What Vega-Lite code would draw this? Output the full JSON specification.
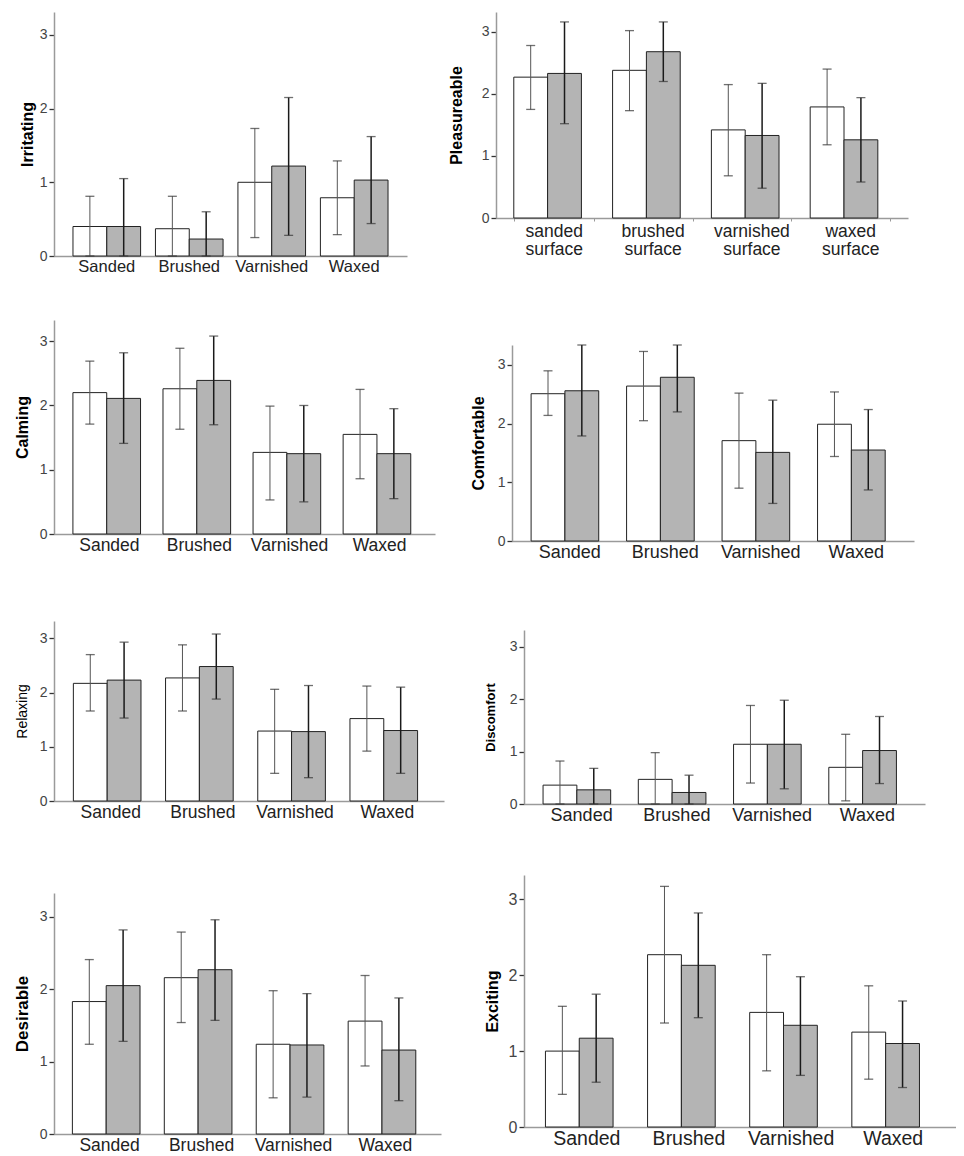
{
  "$schema": "https://vega.github.io/schema/vega-lite/v6.json",
  "background": "white",
  "padding": {"left": 13, "top": 6, "right": 0, "bottom": 0},
  "datasets": {
    "ratings": [
      {"panel": "Irritating", "surface": "Sanded", "group": "A", "mean": 0.40, "lo": 0, "hi": 0.81},
      {"panel": "Irritating", "surface": "Sanded", "group": "B", "mean": 0.40, "lo": 0, "hi": 1.05},
      {"panel": "Irritating", "surface": "Brushed", "group": "A", "mean": 0.37, "lo": 0, "hi": 0.81},
      {"panel": "Irritating", "surface": "Brushed", "group": "B", "mean": 0.23, "lo": 0, "hi": 0.60},
      {"panel": "Irritating", "surface": "Varnished", "group": "A", "mean": 1.00, "lo": 0.25, "hi": 1.73},
      {"panel": "Irritating", "surface": "Varnished", "group": "B", "mean": 1.22, "lo": 0.28, "hi": 2.15},
      {"panel": "Irritating", "surface": "Waxed", "group": "A", "mean": 0.79, "lo": 0.29, "hi": 1.29},
      {"panel": "Irritating", "surface": "Waxed", "group": "B", "mean": 1.03, "lo": 0.44, "hi": 1.62},
      {"panel": "Pleasureable", "surface": "sanded surface", "group": "A", "mean": 2.27, "lo": 1.75, "hi": 2.78},
      {"panel": "Pleasureable", "surface": "sanded surface", "group": "B", "mean": 2.33, "lo": 1.52, "hi": 3.16},
      {"panel": "Pleasureable", "surface": "brushed surface", "group": "A", "mean": 2.38, "lo": 1.73, "hi": 3.02},
      {"panel": "Pleasureable", "surface": "brushed surface", "group": "B", "mean": 2.68, "lo": 2.20, "hi": 3.16},
      {"panel": "Pleasureable", "surface": "varnished surface", "group": "A", "mean": 1.42, "lo": 0.68, "hi": 2.15},
      {"panel": "Pleasureable", "surface": "varnished surface", "group": "B", "mean": 1.33, "lo": 0.48, "hi": 2.17},
      {"panel": "Pleasureable", "surface": "waxed surface", "group": "A", "mean": 1.79, "lo": 1.18, "hi": 2.40},
      {"panel": "Pleasureable", "surface": "waxed surface", "group": "B", "mean": 1.26, "lo": 0.58, "hi": 1.94},
      {"panel": "Calming", "surface": "Sanded", "group": "A", "mean": 2.20, "lo": 1.71, "hi": 2.69},
      {"panel": "Calming", "surface": "Sanded", "group": "B", "mean": 2.11, "lo": 1.41, "hi": 2.82},
      {"panel": "Calming", "surface": "Brushed", "group": "A", "mean": 2.26, "lo": 1.63, "hi": 2.89},
      {"panel": "Calming", "surface": "Brushed", "group": "B", "mean": 2.39, "lo": 1.70, "hi": 3.08},
      {"panel": "Calming", "surface": "Varnished", "group": "A", "mean": 1.27, "lo": 0.53, "hi": 1.99},
      {"panel": "Calming", "surface": "Varnished", "group": "B", "mean": 1.25, "lo": 0.50, "hi": 2.00},
      {"panel": "Calming", "surface": "Waxed", "group": "A", "mean": 1.55, "lo": 0.86, "hi": 2.25},
      {"panel": "Calming", "surface": "Waxed", "group": "B", "mean": 1.25, "lo": 0.55, "hi": 1.95},
      {"panel": "Comfortable", "surface": "Sanded", "group": "A", "mean": 2.51, "lo": 2.14, "hi": 2.90},
      {"panel": "Comfortable", "surface": "Sanded", "group": "B", "mean": 2.56, "lo": 1.79, "hi": 3.34},
      {"panel": "Comfortable", "surface": "Brushed", "group": "A", "mean": 2.64, "lo": 2.05, "hi": 3.23},
      {"panel": "Comfortable", "surface": "Brushed", "group": "B", "mean": 2.79, "lo": 2.20, "hi": 3.34},
      {"panel": "Comfortable", "surface": "Varnished", "group": "A", "mean": 1.71, "lo": 0.90, "hi": 2.52},
      {"panel": "Comfortable", "surface": "Varnished", "group": "B", "mean": 1.51, "lo": 0.64, "hi": 2.40},
      {"panel": "Comfortable", "surface": "Waxed", "group": "A", "mean": 1.99, "lo": 1.44, "hi": 2.54},
      {"panel": "Comfortable", "surface": "Waxed", "group": "B", "mean": 1.55, "lo": 0.87, "hi": 2.24},
      {"panel": "Relaxing", "surface": "Sanded", "group": "A", "mean": 2.17, "lo": 1.66, "hi": 2.70},
      {"panel": "Relaxing", "surface": "Sanded", "group": "B", "mean": 2.23, "lo": 1.53, "hi": 2.93},
      {"panel": "Relaxing", "surface": "Brushed", "group": "A", "mean": 2.27, "lo": 1.66, "hi": 2.88},
      {"panel": "Relaxing", "surface": "Brushed", "group": "B", "mean": 2.48, "lo": 1.88, "hi": 3.08},
      {"panel": "Relaxing", "surface": "Varnished", "group": "A", "mean": 1.29, "lo": 0.51, "hi": 2.06},
      {"panel": "Relaxing", "surface": "Varnished", "group": "B", "mean": 1.28, "lo": 0.43, "hi": 2.13},
      {"panel": "Relaxing", "surface": "Waxed", "group": "A", "mean": 1.52, "lo": 0.92, "hi": 2.12},
      {"panel": "Relaxing", "surface": "Waxed", "group": "B", "mean": 1.30, "lo": 0.51, "hi": 2.10},
      {"panel": "Discomfort", "surface": "Sanded", "group": "A", "mean": 0.36, "lo": 0, "hi": 0.82},
      {"panel": "Discomfort", "surface": "Sanded", "group": "B", "mean": 0.27, "lo": 0, "hi": 0.68},
      {"panel": "Discomfort", "surface": "Brushed", "group": "A", "mean": 0.47, "lo": 0, "hi": 0.98},
      {"panel": "Discomfort", "surface": "Brushed", "group": "B", "mean": 0.22, "lo": 0, "hi": 0.55},
      {"panel": "Discomfort", "surface": "Varnished", "group": "A", "mean": 1.14, "lo": 0.40, "hi": 1.88},
      {"panel": "Discomfort", "surface": "Varnished", "group": "B", "mean": 1.14, "lo": 0.29, "hi": 1.98},
      {"panel": "Discomfort", "surface": "Waxed", "group": "A", "mean": 0.70, "lo": 0.06, "hi": 1.33},
      {"panel": "Discomfort", "surface": "Waxed", "group": "B", "mean": 1.02, "lo": 0.39, "hi": 1.67},
      {"panel": "Desirable", "surface": "Sanded", "group": "A", "mean": 1.83, "lo": 1.24, "hi": 2.41},
      {"panel": "Desirable", "surface": "Sanded", "group": "B", "mean": 2.05, "lo": 1.28, "hi": 2.82},
      {"panel": "Desirable", "surface": "Brushed", "group": "A", "mean": 2.16, "lo": 1.54, "hi": 2.79},
      {"panel": "Desirable", "surface": "Brushed", "group": "B", "mean": 2.27, "lo": 1.57, "hi": 2.96},
      {"panel": "Desirable", "surface": "Varnished", "group": "A", "mean": 1.24, "lo": 0.50, "hi": 1.98},
      {"panel": "Desirable", "surface": "Varnished", "group": "B", "mean": 1.23, "lo": 0.51, "hi": 1.94},
      {"panel": "Desirable", "surface": "Waxed", "group": "A", "mean": 1.56, "lo": 0.94, "hi": 2.19},
      {"panel": "Desirable", "surface": "Waxed", "group": "B", "mean": 1.16, "lo": 0.46, "hi": 1.88},
      {"panel": "Exciting", "surface": "Sanded", "group": "A", "mean": 1.00, "lo": 0.43, "hi": 1.59},
      {"panel": "Exciting", "surface": "Sanded", "group": "B", "mean": 1.17, "lo": 0.59, "hi": 1.75},
      {"panel": "Exciting", "surface": "Brushed", "group": "A", "mean": 2.27, "lo": 1.37, "hi": 3.17},
      {"panel": "Exciting", "surface": "Brushed", "group": "B", "mean": 2.13, "lo": 1.44, "hi": 2.82},
      {"panel": "Exciting", "surface": "Varnished", "group": "A", "mean": 1.51, "lo": 0.74, "hi": 2.27},
      {"panel": "Exciting", "surface": "Varnished", "group": "B", "mean": 1.34, "lo": 0.68, "hi": 1.98},
      {"panel": "Exciting", "surface": "Waxed", "group": "A", "mean": 1.25, "lo": 0.63, "hi": 1.86},
      {"panel": "Exciting", "surface": "Waxed", "group": "B", "mean": 1.10, "lo": 0.52, "hi": 1.66}
    ]
  },
  "data": {"name": "ratings"},
  "config": {
    "view": {"stroke": null},
    "font": "Liberation Sans",
    "title": {"fontSize": 1, "anchor": "start", "frame": "group"},
    "axis": {
      "labelFont": "Liberation Sans",
      "titleFont": "Liberation Sans",
      "domainColor": "#9a9a9a",
      "domainWidth": 1.5,
      "grid": false
    },
    "axisX": {"ticks": false, "labelAngle": 0, "labelColor": "#222", "labelPadding": 2, "title": null},
    "axisY": {
      "tickColor": "#333",
      "tickSize": 5,
      "tickWidth": 1.3,
      "labelColor": "#444",
      "labelFontSize": 14,
      "labelPadding": 2,
      "titleColor": "#000",
      "titleFontSize": 16,
      "titleFontWeight": "bold"
    },
    "tick": {"thickness": 1.3, "size": 9, "color": "#333"},
    "bar": {"stroke": "#222", "strokeWidth": 1}
  },
  "columns": 2,
  "align": "none",
  "spacing": {"row": 0, "column": 2},
  "concat": [
    {
      "width": 353, "height": 244,
      "title": {"text": " ", "offset": 5, "dx": -41},
      "transform": [{"filter": "datum.panel === 'Irritating'"}],
      "encoding": {
        "x": {"field": "surface", "type": "nominal", "sort": null, "scale": {"paddingInner": 0.18, "paddingOuter": 0.23}, "axis": {"labelFontSize": 16.5}},
        "xOffset": {"field": "group", "type": "nominal", "sort": null}
      },
      "layer": [
        {"mark": "bar", "encoding": {
          "y": {"field": "mean", "type": "quantitative", "scale": {"domain": [0, 3.31], "nice": false}, "title": "Irritating", "axis": {"values": [0, 1, 2, 3], "format": "d", "titlePadding": 3.7}},
          "fill": {"field": "group", "type": "nominal", "scale": {"domain": ["A", "B"], "range": ["#ffffff", "#b4b4b4"]}, "legend": null}}},
        {"mark": "rule", "encoding": {
          "y": {"field": "lo", "type": "quantitative", "title": "Irritating"}, "y2": {"field": "hi"},
          "stroke": {"field": "group", "type": "nominal", "scale": {"domain": ["A", "B"], "range": ["#555555", "#1a1a1a"]}, "legend": null},
          "strokeWidth": {"field": "group", "type": "nominal", "scale": {"domain": ["A", "B"], "range": [1, 1.5]}, "legend": null}}},
        {"mark": "tick", "encoding": {"y": {"field": "hi", "type": "quantitative", "title": "Irritating"}}},
        {"mark": "tick", "encoding": {"y": {"field": "lo", "type": "quantitative", "title": "Irritating"}}}
      ]
    },
    {
      "width": 412, "height": 206,
      "title": {"text": " ", "offset": 0, "dx": -49.3},
      "transform": [{"filter": "datum.panel === 'Pleasureable'"}],
      "encoding": {
        "x": {"field": "surface", "type": "nominal", "sort": null, "scale": {"paddingInner": 0.19, "paddingOuter": 0.18},
          "axis": {"labelFontSize": 17.5, "labelExpr": "split(datum.label, ' ')", "labelLineHeight": 18, "ticks": true, "tickBand": "extent", "tickSize": 3, "tickColor": "#999", "labelPadding": 1}},
        "xOffset": {"field": "group", "type": "nominal", "sort": null}
      },
      "layer": [
        {"mark": "bar", "encoding": {
          "y": {"field": "mean", "type": "quantitative", "scale": {"domain": [0, 3.32], "nice": false}, "title": "Pleasureable", "axis": {"values": [0, 1, 2, 3], "format": "d", "titlePadding": 17}},
          "fill": {"field": "group", "type": "nominal", "scale": {"domain": ["A", "B"], "range": ["#ffffff", "#b4b4b4"]}, "legend": null}}},
        {"mark": "rule", "encoding": {
          "y": {"field": "lo", "type": "quantitative", "title": "Pleasureable"}, "y2": {"field": "hi"},
          "stroke": {"field": "group", "type": "nominal", "scale": {"domain": ["A", "B"], "range": ["#555555", "#1a1a1a"]}, "legend": null},
          "strokeWidth": {"field": "group", "type": "nominal", "scale": {"domain": ["A", "B"], "range": [1, 1.5]}, "legend": null}}},
        {"mark": "tick", "encoding": {"y": {"field": "hi", "type": "quantitative", "title": "Pleasureable"}}},
        {"mark": "tick", "encoding": {"y": {"field": "lo", "type": "quantitative", "title": "Pleasureable"}}}
      ]
    },
    {
      "width": 381, "height": 214,
      "title": {"text": " ", "offset": 43.5, "dx": -41},
      "transform": [{"filter": "datum.panel === 'Calming'"}],
      "encoding": {
        "x": {"field": "surface", "type": "nominal", "sort": null, "scale": {"paddingInner": 0.19, "paddingOuter": 0.21}, "axis": {"labelFontSize": 17.5}},
        "xOffset": {"field": "group", "type": "nominal", "sort": null}
      },
      "layer": [
        {"mark": "bar", "encoding": {
          "y": {"field": "mean", "type": "quantitative", "scale": {"domain": [0, 3.33], "nice": false}, "title": "Calming", "axis": {"values": [0, 1, 2, 3], "format": "d", "titlePadding": 8.3}},
          "fill": {"field": "group", "type": "nominal", "scale": {"domain": ["A", "B"], "range": ["#ffffff", "#b4b4b4"]}, "legend": null}}},
        {"mark": "rule", "encoding": {
          "y": {"field": "lo", "type": "quantitative", "title": "Calming"}, "y2": {"field": "hi"},
          "stroke": {"field": "group", "type": "nominal", "scale": {"domain": ["A", "B"], "range": ["#555555", "#1a1a1a"]}, "legend": null},
          "strokeWidth": {"field": "group", "type": "nominal", "scale": {"domain": ["A", "B"], "range": [1, 1.5]}, "legend": null}}},
        {"mark": "tick", "encoding": {"y": {"field": "hi", "type": "quantitative", "title": "Calming"}}},
        {"mark": "tick", "encoding": {"y": {"field": "lo", "type": "quantitative", "title": "Calming"}}}
      ]
    },
    {
      "width": 402, "height": 196,
      "title": {"text": " ", "offset": 67.8, "dx": -66},
      "transform": [{"filter": "datum.panel === 'Comfortable'"}],
      "encoding": {
        "x": {"field": "surface", "type": "nominal", "sort": null, "scale": {"paddingInner": 0.19, "paddingOuter": 0.2}, "axis": {"labelFontSize": 18}},
        "xOffset": {"field": "group", "type": "nominal", "sort": null}
      },
      "layer": [
        {"mark": "bar", "encoding": {
          "y": {"field": "mean", "type": "quantitative", "scale": {"domain": [0, 3.34], "nice": false}, "title": "Comfortable", "axis": {"values": [0, 1, 2, 3], "format": "d", "titlePadding": 11}},
          "fill": {"field": "group", "type": "nominal", "scale": {"domain": ["A", "B"], "range": ["#ffffff", "#b4b4b4"]}, "legend": null}}},
        {"mark": "rule", "encoding": {
          "y": {"field": "lo", "type": "quantitative", "title": "Comfortable"}, "y2": {"field": "hi"},
          "stroke": {"field": "group", "type": "nominal", "scale": {"domain": ["A", "B"], "range": ["#555555", "#1a1a1a"]}, "legend": null},
          "strokeWidth": {"field": "group", "type": "nominal", "scale": {"domain": ["A", "B"], "range": [1, 1.5]}, "legend": null}}},
        {"mark": "tick", "encoding": {"y": {"field": "hi", "type": "quantitative", "title": "Comfortable"}}},
        {"mark": "tick", "encoding": {"y": {"field": "lo", "type": "quantitative", "title": "Comfortable"}}}
      ]
    },
    {
      "width": 390, "height": 180,
      "title": {"text": " ", "offset": 66, "dx": -41},
      "transform": [{"filter": "datum.panel === 'Relaxing'"}],
      "encoding": {
        "x": {"field": "surface", "type": "nominal", "sort": null, "scale": {"paddingInner": 0.19, "paddingOuter": 0.21}, "axis": {"labelFontSize": 17.5}},
        "xOffset": {"field": "group", "type": "nominal", "sort": null}
      },
      "layer": [
        {"mark": "bar", "encoding": {
          "y": {"field": "mean", "type": "quantitative", "scale": {"domain": [0, 3.32], "nice": false}, "title": "Relaxing", "axis": {"values": [0, 1, 2, 3], "format": "d", "titlePadding": 10, "titleFontSize": 14, "titleFontWeight": "normal"}},
          "fill": {"field": "group", "type": "nominal", "scale": {"domain": ["A", "B"], "range": ["#ffffff", "#b4b4b4"]}, "legend": null}}},
        {"mark": "rule", "encoding": {
          "y": {"field": "lo", "type": "quantitative", "title": "Relaxing"}, "y2": {"field": "hi"},
          "stroke": {"field": "group", "type": "nominal", "scale": {"domain": ["A", "B"], "range": ["#555555", "#1a1a1a"]}, "legend": null},
          "strokeWidth": {"field": "group", "type": "nominal", "scale": {"domain": ["A", "B"], "range": [1, 1.5]}, "legend": null}}},
        {"mark": "tick", "encoding": {"y": {"field": "hi", "type": "quantitative", "title": "Relaxing"}}},
        {"mark": "tick", "encoding": {"y": {"field": "lo", "type": "quantitative", "title": "Relaxing"}}}
      ]
    },
    {
      "width": 401, "height": 174,
      "title": {"text": " ", "offset": 49.3, "dx": -77.3},
      "transform": [{"filter": "datum.panel === 'Discomfort'"}],
      "encoding": {
        "x": {"field": "surface", "type": "nominal", "sort": null, "scale": {"paddingInner": 0.19, "paddingOuter": 0.2}, "axis": {"labelFontSize": 18}},
        "xOffset": {"field": "group", "type": "nominal", "sort": null}
      },
      "layer": [
        {"mark": "bar", "encoding": {
          "y": {"field": "mean", "type": "quantitative", "scale": {"domain": [0, 3.32], "nice": false}, "title": "Discomfort", "axis": {"values": [0, 1, 2, 3], "format": "d", "titlePadding": 11.3, "titleFontSize": 13}},
          "fill": {"field": "group", "type": "nominal", "scale": {"domain": ["A", "B"], "range": ["#ffffff", "#b4b4b4"]}, "legend": null}}},
        {"mark": "rule", "encoding": {
          "y": {"field": "lo", "type": "quantitative", "title": "Discomfort"}, "y2": {"field": "hi"},
          "stroke": {"field": "group", "type": "nominal", "scale": {"domain": ["A", "B"], "range": ["#555555", "#1a1a1a"]}, "legend": null},
          "strokeWidth": {"field": "group", "type": "nominal", "scale": {"domain": ["A", "B"], "range": [1, 1.5]}, "legend": null}}},
        {"mark": "tick", "encoding": {"y": {"field": "hi", "type": "quantitative", "title": "Discomfort"}}},
        {"mark": "tick", "encoding": {"y": {"field": "lo", "type": "quantitative", "title": "Discomfort"}}}
      ]
    },
    {
      "width": 387, "height": 241,
      "title": {"text": " ", "offset": 70.5, "dx": -41},
      "transform": [{"filter": "datum.panel === 'Desirable'"}],
      "encoding": {
        "x": {"field": "surface", "type": "nominal", "sort": null, "scale": {"paddingInner": 0.19, "paddingOuter": 0.2}, "axis": {"labelFontSize": 17.5}},
        "xOffset": {"field": "group", "type": "nominal", "sort": null}
      },
      "layer": [
        {"mark": "bar", "encoding": {
          "y": {"field": "mean", "type": "quantitative", "scale": {"domain": [0, 3.33], "nice": false}, "title": "Desirable", "axis": {"values": [0, 1, 2, 3], "format": "d", "titlePadding": 7.3, "titleFontSize": 17}},
          "fill": {"field": "group", "type": "nominal", "scale": {"domain": ["A", "B"], "range": ["#ffffff", "#b4b4b4"]}, "legend": null}}},
        {"mark": "rule", "encoding": {
          "y": {"field": "lo", "type": "quantitative", "title": "Desirable"}, "y2": {"field": "hi"},
          "stroke": {"field": "group", "type": "nominal", "scale": {"domain": ["A", "B"], "range": ["#555555", "#1a1a1a"]}, "legend": null},
          "strokeWidth": {"field": "group", "type": "nominal", "scale": {"domain": ["A", "B"], "range": [1, 1.5]}, "legend": null}}},
        {"mark": "tick", "encoding": {"y": {"field": "hi", "type": "quantitative", "title": "Desirable"}}},
        {"mark": "tick", "encoding": {"y": {"field": "lo", "type": "quantitative", "title": "Desirable"}}}
      ]
    },
    {
      "width": 432, "height": 252,
      "title": {"text": " ", "offset": 43.7, "dx": -77.3},
      "transform": [{"filter": "datum.panel === 'Exciting'"}],
      "encoding": {
        "x": {"field": "surface", "type": "nominal", "sort": null, "scale": {"paddingInner": 0.19, "paddingOuter": 0.21}, "axis": {"labelFontSize": 19.5}},
        "xOffset": {"field": "group", "type": "nominal", "sort": null}
      },
      "layer": [
        {"mark": "bar", "encoding": {
          "y": {"field": "mean", "type": "quantitative", "scale": {"domain": [0, 3.32], "nice": false}, "title": "Exciting", "axis": {"values": [0, 1, 2, 3], "format": "d", "titlePadding": 7.3, "labelFontSize": 16}},
          "fill": {"field": "group", "type": "nominal", "scale": {"domain": ["A", "B"], "range": ["#ffffff", "#b4b4b4"]}, "legend": null}}},
        {"mark": "rule", "encoding": {
          "y": {"field": "lo", "type": "quantitative", "title": "Exciting"}, "y2": {"field": "hi"},
          "stroke": {"field": "group", "type": "nominal", "scale": {"domain": ["A", "B"], "range": ["#555555", "#1a1a1a"]}, "legend": null},
          "strokeWidth": {"field": "group", "type": "nominal", "scale": {"domain": ["A", "B"], "range": [1, 1.5]}, "legend": null}}},
        {"mark": "tick", "encoding": {"y": {"field": "hi", "type": "quantitative", "title": "Exciting"}}},
        {"mark": "tick", "encoding": {"y": {"field": "lo", "type": "quantitative", "title": "Exciting"}}}
      ]
    }
  ]
}
